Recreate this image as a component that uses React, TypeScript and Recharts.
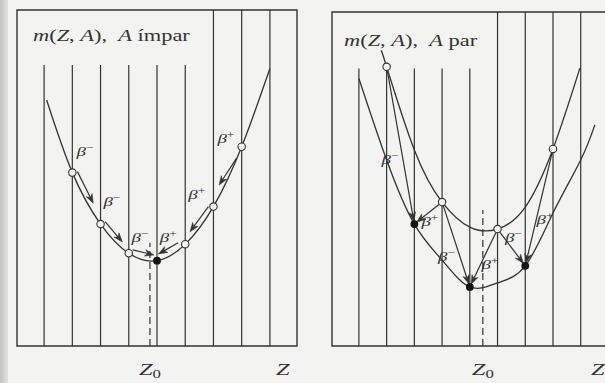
import React from "react";
import {
  ComposedChart,
  Line,
  Scatter,
  XAxis,
  YAxis,
  ReferenceLine,
  ReferenceArea,
} from "recharts";

/**
 * Mass parabolas m(Z, A) for odd A (one parabola) and even A (odd-odd / even-even).
 */

const INK = "#333333";
const PAPER = "#f3f3f1";
const FONT = '"Liberation Serif", "DejaVu Serif", serif';
const STRETCH = 1.4; // the photographed page is wider than the type

// ---- left panel: A odd
const ODD_Z = [2, 3, 4, 5, 6, 7, 8];
const ODD_M = [51.6, 36.3, 27.6, 25.4, 30.3, 41.5, 59.3];
const ODD_STABLE_Z = 5;
const ODD_ENDS_Z = [1.09, 9.0];
const ODD_ENDS_M = [73.2, 82.6];
// [fromZ, fromM, toZ, toM]
const ODD_ARROWS = [
  [2.18, 51.9, 2.74, 42.5],
  [3.16, 37.0, 3.77, 31.0],
  [4.14, 28.6, 4.89, 27.1],
  [5.75, 30.7, 5.05, 27.4],
  [6.82, 41.5, 6.17, 34.0],
  [7.82, 55.9, 7.2, 47.9],
];
const ODD_LABEL_Z = [2.45, 3.4, 4.4, 5.4, 6.41, 7.44];
const ODD_LABEL_M = [57.8, 42.9, 32.1, 32.1, 44.9, 61.5];
const ODD_LABEL_SIGN = ["−", "−", "−", "+", "+", "+"];
const ODD_LINE_TOPS = [83.6, 83.6, 83.6, 83.6, 83.6, 83.6, 100, 100, 100];
const ODD_Z0 = 4.75;
const ODD_Z0_TOP = 30.7;
const ODD_ZLABEL = 9.46;

// ---- right panel: A even
const OO_Z = [2, 4, 6, 8];
const OO_M = [83.6, 43.1, 35.0, 59.0];
const OO_CURVE_Z = [1.82, 2, 3, 4, 5, 6, 7, 8, 8.97];
const OO_CURVE_M = [88.1, 83.6, 58.7, 43.1, 35.6, 35.0, 41.6, 59.0, 83.2];
const EE_Z = [3, 5, 7];
const EE_M = [36.5, 17.7, 24.0];
const EE_CURVE_Z = [1, 2, 3, 4, 5, 6, 7, 8, 9, 9.51];
const EE_CURVE_M = [80.1, 55.7, 36.5, 25.7, 17.7, 18.9, 24.0, 39.8, 55.7, 66.2];
// [fromZ, toZ]: decays between nuclei
const EVEN_DECAYS = [
  [2, 3],
  [4, 3],
  [4, 5],
  [6, 5],
  [6, 7],
  [8, 7],
];
const EVEN_LABEL_Z = [2.12, 3.56, 4.16, 5.73, 6.57, 7.71];
const EVEN_LABEL_M = [55.7, 37.2, 26.7, 24.3, 32.2, 37.7];
const EVEN_LABEL_SIGN = ["−", "+", "−", "+", "−", "+"];
const EVEN_LINE_TOPS = [83.1, 83.1, 83.1, 83.1, 83.1, 100, 100, 100, 100];
const EVEN_Z0 = 5.47;
const EVEN_Z0_TOP = 40.7;
const EVEN_ZLABEL = 9.62;

const zip = (zs: number[], ms: number[]) => zs.map((z, i) => ({ z, m: ms[i] }));

const massAt = (z: number) => {
  const i = OO_Z.indexOf(z);
  return i >= 0 ? OO_M[i] : EE_M[EE_Z.indexOf(z)];
};

const arrowShape = (trimStart: number, trimEnd: number) => (p: any) => {
  const x1 = Number(p.x1), y1 = Number(p.y1), x2 = Number(p.x2), y2 = Number(p.y2);
  const len = Math.hypot(x2 - x1, y2 - y1) || 1;
  const ux = (x2 - x1) / len, uy = (y2 - y1) / len;
  const sx = x1 + ux * trimStart, sy = y1 + uy * trimStart;
  const ex = x2 - ux * trimEnd, ey = y2 - uy * trimEnd;
  const hl = 9, hw = 3.3;
  const bx = ex - ux * hl, by = ey - uy * hl;
  const nx = ex - ux * hl * 0.7, ny = ey - uy * hl * 0.7;
  const d = `M${ex},${ey} L${bx - uy * hw},${by + ux * hw} L${nx},${ny} L${bx + uy * hw},${by - ux * hw} Z`;
  return (
    <g>
      <line x1={sx} y1={sy} x2={nx} y2={ny} stroke={INK} strokeWidth={1.2} />
      <path d={d} fill={INK} stroke={INK} strokeWidth={0.6} />
    </g>
  );
};

const openDot = (p: any) => (
  <circle cx={p.cx} cy={p.cy} r={3.7} fill={PAPER} stroke={INK} strokeWidth={1.1} />
);
const fullDot = (p: any) => <circle cx={p.cx} cy={p.cy} r={3.9} fill="#151515" />;

const betaLabel = (p: any) => (
  <g transform={`translate(${p.cx},${p.cy}) scale(${STRETCH},1)`}>
    <text textAnchor="middle" dy={4} fontFamily={FONT} fontSize={13.5} fill={INK}>
      <tspan fontStyle="italic">β</tspan>
      <tspan fontSize={9.5} dy={-5}>
        {p.payload.sign}
      </tspan>
    </text>
  </g>
);

const zTick = (z0: number) => (p: any) => (
  <g transform={`translate(${p.x},375) scale(${STRETCH},1)`}>
    <text textAnchor="middle" fontFamily={FONT} fontSize={17.5} fill={INK}>
      <tspan fontStyle="italic">Z</tspan>
      {p.payload.value === z0 && (
        <tspan fontSize={12} dy={3}>
          0
        </tspan>
      )}
    </text>
  </g>
);

interface PanelProps {
  left: number;
  width: number;
  margin: { top: number; right: number; bottom: number; left: number };
  domain: [number, number];
  curves: { z: number; m: number }[][];
  open: { z: number; m: number }[];
  full: { z: number; m: number }[];
  arrows: { from: { z: number; m: number }; to: { z: number; m: number }; trim: [number, number] }[];
  labels: { z: number; m: number; sign: string }[];
  lineTops: number[];
  z0: number;
  z0Top: number;
  zLabel: number;
}

function Panel(props: PanelProps) {
  const { domain } = props;
  return (
    <div style={{ position: "absolute", left: props.left, top: 0 }}>
      <ComposedChart width={props.width} height={383} margin={props.margin}>
        <XAxis
          type="number"
          dataKey="z"
          domain={domain}
          allowDataOverflow
          ticks={[props.z0, props.zLabel]}
          interval={0}
          axisLine={false}
          tickLine={false}
          height={37}
          tick={zTick(props.z0)}
        />
        <YAxis type="number" dataKey="m" domain={[0, 100]} allowDataOverflow hide />
        <ReferenceArea
          x1={domain[0]}
          x2={domain[1]}
          y1={0}
          y2={100}
          fill="none"
          fillOpacity={0}
          stroke={INK}
          strokeWidth={1.4}
          ifOverflow="visible"
        />
        {props.lineTops.map((top, i) => (
          <ReferenceLine
            key={`v${i}`}
            segment={[
              { x: i + 1, y: 0 },
              { x: i + 1, y: top },
            ]}
            stroke={INK}
            strokeWidth={1.2}
            ifOverflow="visible"
          />
        ))}
        <ReferenceLine
          segment={[
            { x: props.z0, y: 0 },
            { x: props.z0, y: props.z0Top },
          ]}
          stroke={INK}
          strokeWidth={1.2}
          strokeDasharray="7 4"
          ifOverflow="visible"
        />
        {props.curves.map((c, i) => (
          <Line
            key={`c${i}`}
            data={c}
            dataKey="m"
            type="natural"
            dot={false}
            activeDot={false}
            stroke={INK}
            strokeWidth={1.3}
            isAnimationActive={false}
          />
        ))}
        {props.arrows.map((a, i) => (
          <ReferenceLine
            key={`a${i}`}
            segment={[
              { x: a.from.z, y: a.from.m },
              { x: a.to.z, y: a.to.m },
            ]}
            ifOverflow="visible"
            shape={arrowShape(a.trim[0], a.trim[1])}
          />
        ))}
        <Scatter data={props.open} shape={openDot} isAnimationActive={false} />
        <Scatter data={props.full} shape={fullDot} isAnimationActive={false} />
        <Scatter data={props.labels} shape={betaLabel} isAnimationActive={false} />
      </ComposedChart>
    </div>
  );
}

const titleStyle = (left: number, top: number): React.CSSProperties => ({
  position: "absolute",
  left,
  top,
  fontFamily: FONT,
  fontSize: 16,
  lineHeight: "18px",
  color: INK,
  whiteSpace: "nowrap",
  transform: `scaleX(${STRETCH})`,
  transformOrigin: "left top",
});

export default function App() {
  const oddNuclei = zip(ODD_Z, ODD_M);
  const oddCurve = [
    { z: ODD_ENDS_Z[0], m: ODD_ENDS_M[0] },
    ...oddNuclei,
    { z: ODD_ENDS_Z[1], m: ODD_ENDS_M[1] },
  ];
  const oddArrows = ODD_ARROWS.map(([z1, m1, z2, m2]) => ({
    from: { z: z1, m: m1 },
    to: { z: z2, m: m2 },
    trim: [0, 0] as [number, number],
  }));
  const evenArrows = EVEN_DECAYS.map(([a, b]) => ({
    from: { z: a, m: massAt(a) },
    to: { z: b, m: massAt(b) },
    trim: [4, 3] as [number, number],
  }));

  return (
    <div
      style={{
        position: "absolute",
        left: 0,
        top: 0,
        width: 605,
        height: 383,
        overflow: "hidden",
        background: PAPER,
      }}
    >
      <div
        style={{
          position: "absolute",
          left: 0,
          top: 0,
          width: 8,
          height: 383,
          background: "linear-gradient(to right, #c4c4c4, #e2e2e0)",
        }}
      />
      <Panel
        left={0}
        width={300}
        margin={{ top: 10, right: 3, bottom: 0, left: 17 }}
        domain={[0.04, 9.96]}
        curves={[oddCurve]}
        open={oddNuclei.filter((d) => d.z !== ODD_STABLE_Z)}
        full={oddNuclei.filter((d) => d.z === ODD_STABLE_Z)}
        arrows={oddArrows}
        labels={ODD_LABEL_Z.map((z, i) => ({ z, m: ODD_LABEL_M[i], sign: ODD_LABEL_SIGN[i] }))}
        lineTops={ODD_LINE_TOPS}
        z0={ODD_Z0}
        z0Top={ODD_Z0_TOP}
        zLabel={ODD_ZLABEL}
      />
      <Panel
        left={300}
        width={309}
        margin={{ top: 12, right: 0, bottom: 0, left: 32 }}
        domain={[0.03, 10.02]}
        curves={[zip(OO_CURVE_Z, OO_CURVE_M), zip(EE_CURVE_Z, EE_CURVE_M)]}
        open={zip(OO_Z, OO_M)}
        full={zip(EE_Z, EE_M)}
        arrows={evenArrows}
        labels={EVEN_LABEL_Z.map((z, i) => ({ z, m: EVEN_LABEL_M[i], sign: EVEN_LABEL_SIGN[i] }))}
        lineTops={EVEN_LINE_TOPS}
        z0={EVEN_Z0}
        z0Top={EVEN_Z0_TOP}
        zLabel={EVEN_ZLABEL}
      />
      <div style={titleStyle(33, 27)}>
        <i>m</i>(<i>Z</i>, <i>A</i>),&nbsp; <i>A</i> ímpar
      </div>
      <div style={titleStyle(344, 32)}>
        <i>m</i>(<i>Z</i>, <i>A</i>),&nbsp; <i>A</i> par
      </div>
    </div>
  );
}
